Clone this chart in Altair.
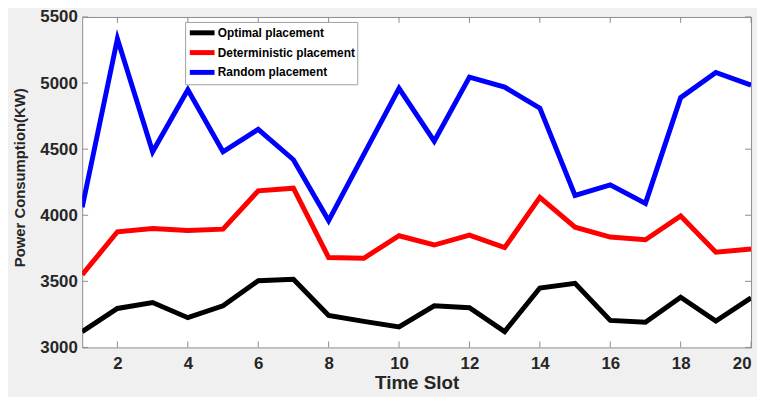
import altair as alt
import pandas as pd

time_slots = list(range(1, 21))
optimal = [3120, 3295, 3340, 3225, 3315, 3505, 3515, 3242, 3197, 3155,
           3315, 3300, 3120, 3450, 3485, 3205, 3190, 3380, 3200, 3375]
deterministic = [3550, 3875, 3900, 3885, 3895, 4185, 4205, 3680, 3675, 3845,
                 3775, 3850, 3755, 4135, 3910, 3835, 3815, 3995, 3720, 3745]
random_pl = [4060, 5335, 4480, 4950, 4480, 4650, 4420, 3960, 4460, 4960,
             4560, 5045, 4970, 4810, 4150, 4230, 4090, 4890, 5080, 4985]
series_names = ["Optimal placement", "Deterministic placement", "Random placement"]
series_colors = ["#000000", "#ff0000", "#0000ff"]
x_ticks = [2, 4, 6, 8, 10, 12, 14, 16, 18, 20]
y_ticks = [3000, 3500, 4000, 4500, 5000, 5500]

rows = []
for name, vals in zip(series_names, [optimal, deterministic, random_pl]):
    for t, v in zip(time_slots, vals):
        rows.append({"slot": t, "power": v, "series": name, "order": series_names.index(name)})
df = pd.DataFrame(rows)

W, H = 676, 334
FONT = "Liberation Sans"

xs = alt.Scale(domain=[1, 20], nice=False, zero=False)
ys = alt.Scale(domain=[3000, 5500], nice=False, zero=False)

lines = alt.Chart(df).mark_line(strokeWidth=5, strokeJoin="miter", clip=True).encode(
    x=alt.X("slot:Q", scale=xs,
            axis=alt.Axis(values=x_ticks, title="Time Slot", grid=False, ticks=False,
                          domain=False, labelFontSize=17, labelFontWeight="bold",
                          labelColor="#262626", labelPadding=8, labelFont=FONT,
                          titleFont=FONT, titleFontSize=19, titleFontWeight="bold",
                          titleColor="#262626", titlePadding=2, format="d")),
    y=alt.Y("power:Q", scale=ys,
            axis=alt.Axis(values=y_ticks, title="Power Consumption(KW)", grid=False,
                          ticks=False, domain=False, labelFontSize=17, format="d",
                          labelFontWeight="bold", labelColor="#262626", labelPadding=5,
                          labelFont=FONT, titleFont=FONT, titleFontSize=15,
                          titleFontWeight="bold", titleColor="#262626",
                          titleX=-55, titleY=162)),
    color=alt.Color("series:N",
                    scale=alt.Scale(domain=series_names, range=series_colors),
                    legend=alt.Legend(title=None, orient="none", legendX=104, legendY=5,
                                      symbolType="M-1,0L3,0", symbolSize=156,
                                      symbolStrokeWidth=5, labelFontSize=12,
                                      labelFontWeight="bold", labelFont=FONT,
                                      labelColor="#000000", labelOffset=13,
                                      fillColor="white", strokeColor="#a0a0a0",
                                      padding=2, rowPadding=0, labelLimit=300)),
    order="order:Q",
    detail="series:N",
)

xt = pd.DataFrame({"t": x_ticks})
yt = pd.DataFrame({"t": y_ticks})
tick_color = "#8c8c8c"

bottom_ticks = alt.Chart(xt).mark_rule(color=tick_color, strokeWidth=1).encode(
    x=alt.X("t:Q", scale=xs), y=alt.value(H), y2=alt.value(H - 6))
top_ticks = alt.Chart(xt).mark_rule(color=tick_color, strokeWidth=1).encode(
    x=alt.X("t:Q", scale=xs), y=alt.value(0), y2=alt.value(6))
left_ticks = alt.Chart(yt).mark_rule(color=tick_color, strokeWidth=1).encode(
    y=alt.Y("t:Q", scale=ys), x=alt.value(0), x2=alt.value(6))
right_ticks = alt.Chart(yt).mark_rule(color=tick_color, strokeWidth=1).encode(
    y=alt.Y("t:Q", scale=ys), x=alt.value(W), x2=alt.value(W - 6))

chart = alt.layer(bottom_ticks, top_ticks, left_ticks, right_ticks, lines).properties(
    width=W, height=H,
    autosize=alt.AutoSizeParams(type="none"),
    padding={"left": 75, "top": 7, "right": 6, "bottom": 48},
    background="#f0f0f0",
).configure_view(
    fill="white", stroke="#8c8c8c", strokeWidth=1
)

chart.save("out.html", embed_options={"renderer": "svg", "actions": False})
